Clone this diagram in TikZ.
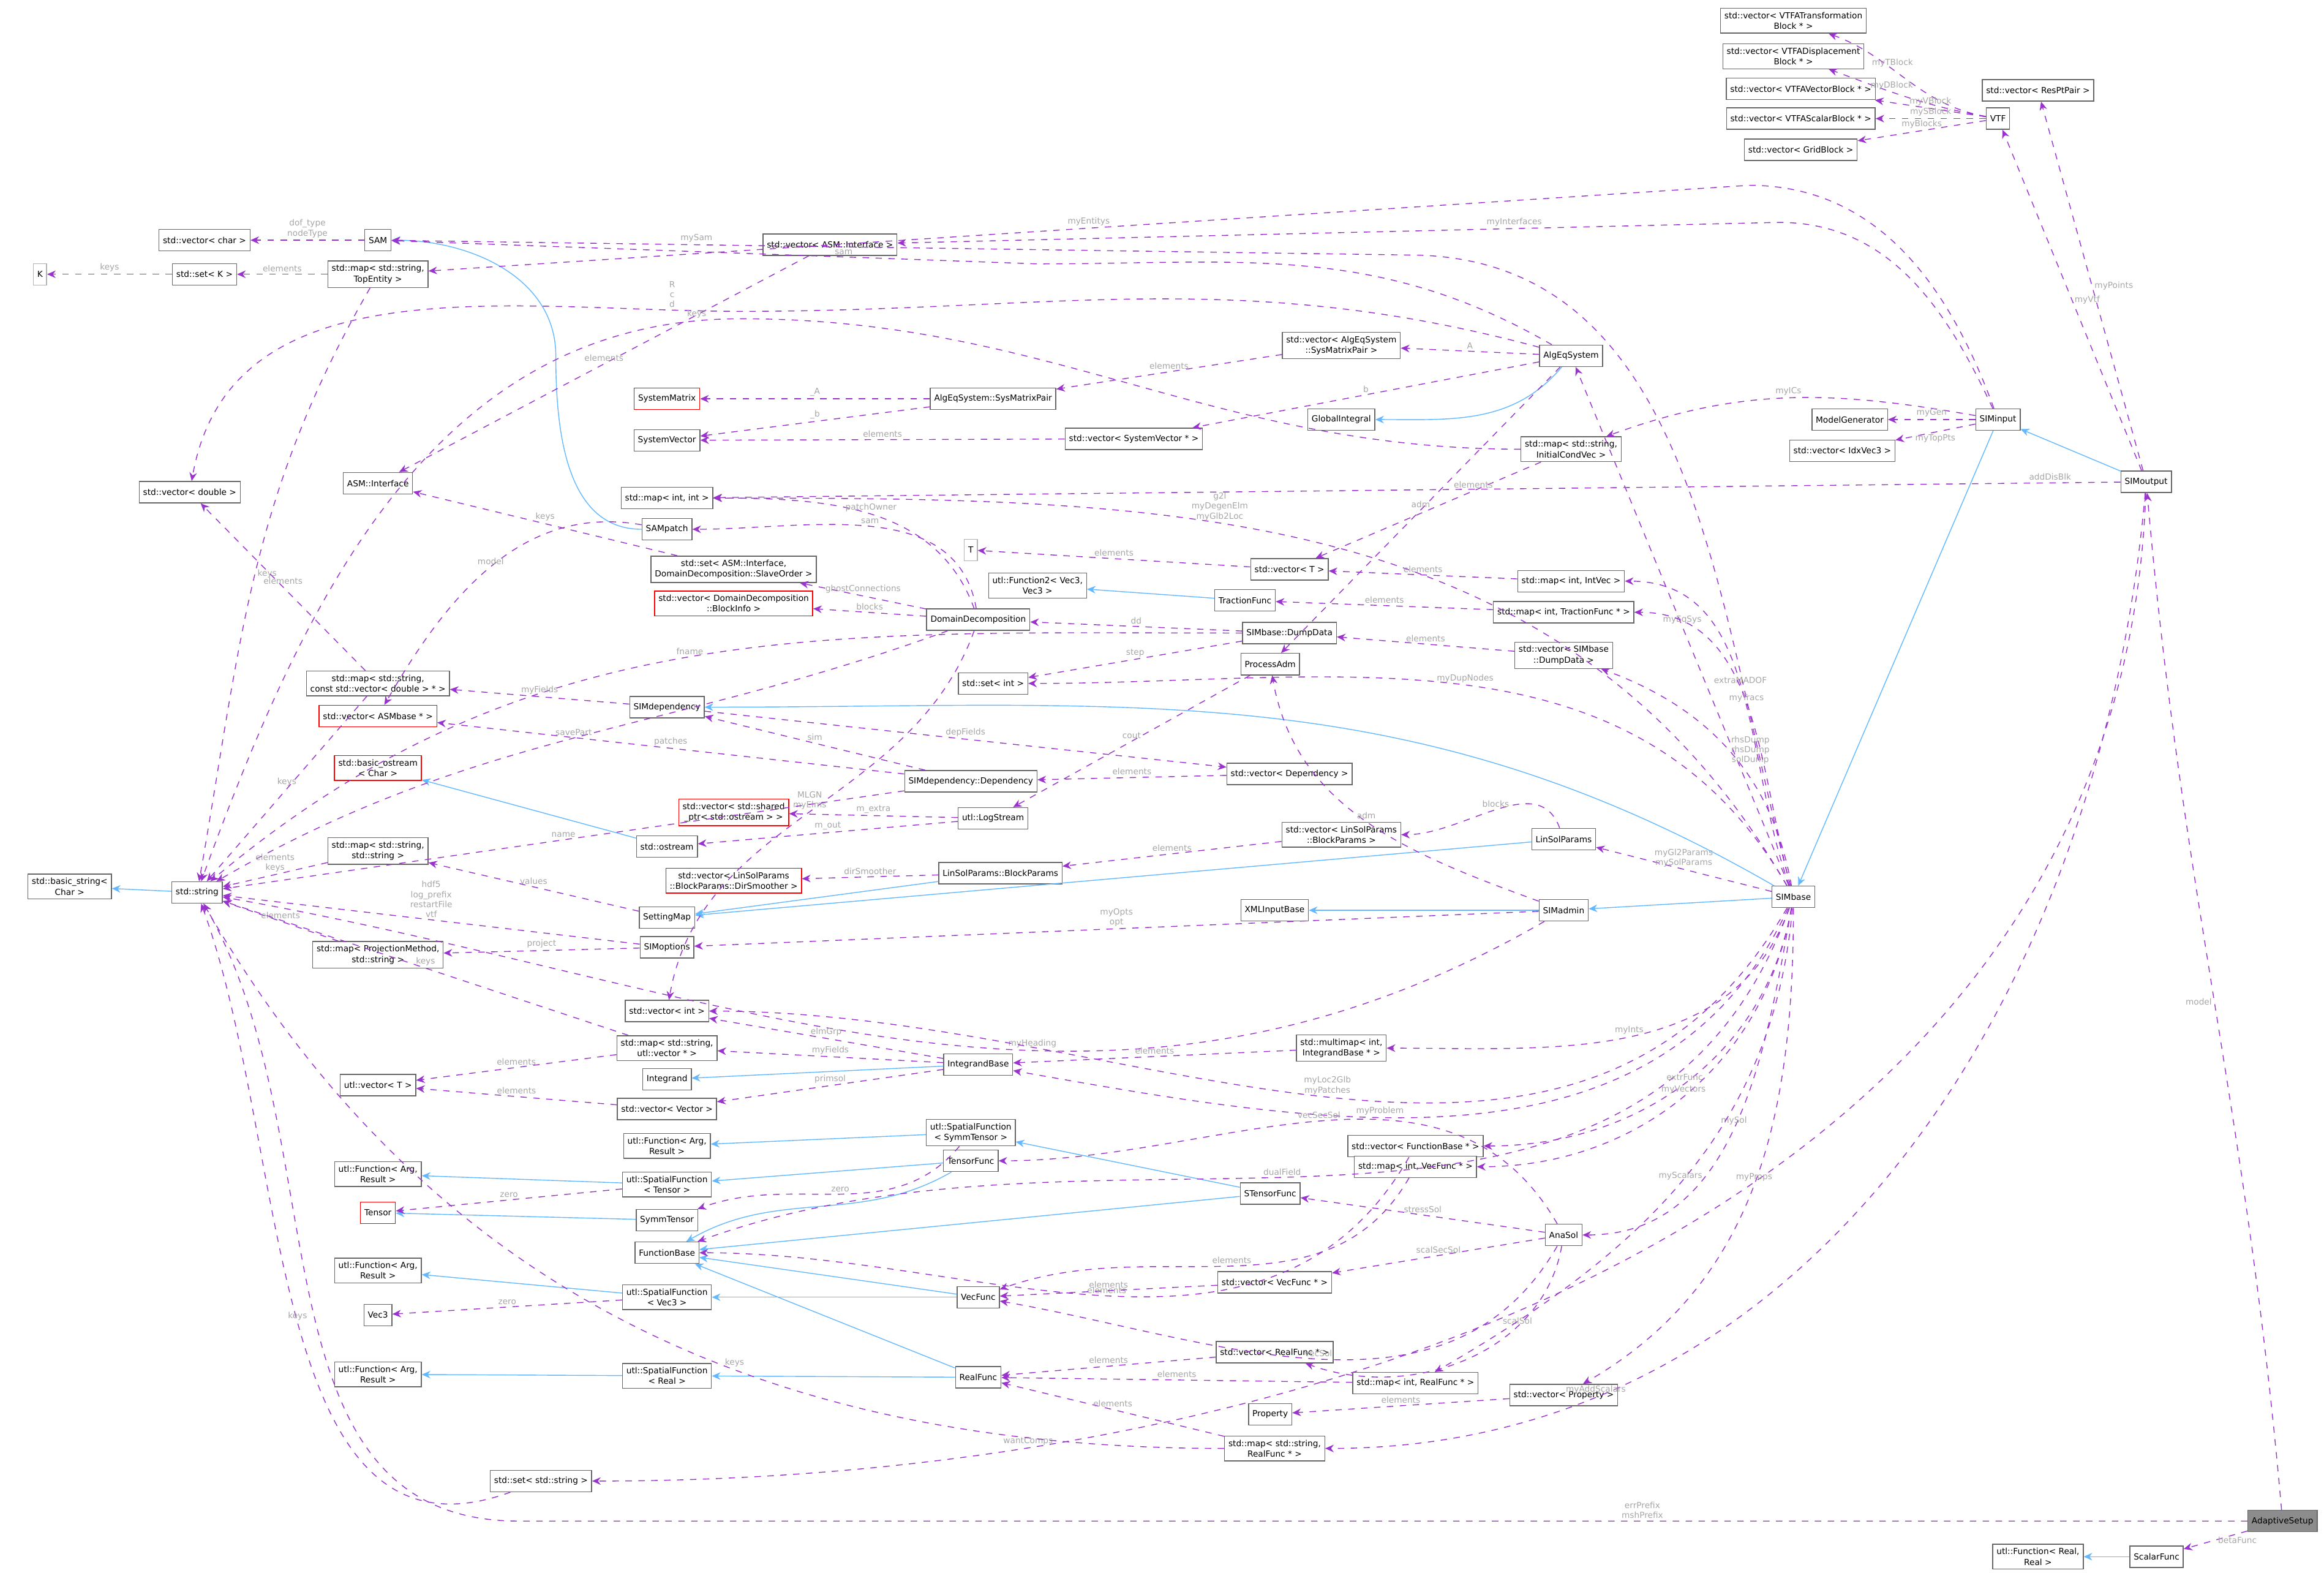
\documentclass[tikz,border=0pt]{standalone}
\usepackage{fontspec}
\setmainfont{DejaVu Sans}
\usetikzlibrary{arrows.meta}
\definecolor{depcol}{HTML}{9A32CD}
\definecolor{inhcol}{HTML}{63B8FF}
\tikzset{
  cls/.style={draw=black!60, fill=white, font=\fontsize{3.9}{4.9}\selectfont, align=center,
              inner sep=1.8pt, minimum height=3.5mm},
  bad/.style={cls, draw=red},
  uses/.style={draw=depcol, dashed, -{Stealth[length=4pt,width=3.5pt]}},
  inh/.style={draw=inhcol, -{Stealth[length=4pt,width=3.5pt]}},
  lab/.style={font=\fontsize{3.9}{4.6}\selectfont, text=black!35, align=center, above, inner sep=1pt}
}
\begin{document}
\begin{tikzpicture}[x=0.242mm, y=-0.242mm]
\useasboundingbox (0,0) rectangle (1568,1061);

% top right
\node[cls] (vTT) at (1210,14) {std::vector< VTFATransformation\\Block * >};
\node[cls] (vDB) at (1210,38) {std::vector< VTFADisplacement\\Block * >};
\node[cls] (vVB) at (1215,60) {std::vector< VTFAVectorBlock * >};
\node[cls] (vSB) at (1215,80) {std::vector< VTFAScalarBlock * >};
\node[cls] (vGB) at (1215,101) {std::vector< GridBlock >};
\node[cls] (vRes) at (1375,61) {std::vector< ResPtPair >};
\node[cls] (VTF) at (1348,80) {VTF};

% left top
\node[cls] (SAM) at (255,162) {SAM};
\node[cls] (vChar) at (138,162) {std::vector< char >};
\node[cls, draw=black!30] (K) at (27,185) {K};
\node[cls] (setK) at (138,185) {std::set< K >};
\node[cls] (mapTop) at (255,185) {std::map< std::string,\\TopEntity >};
\node[cls] (vASMI) at (560,165) {std::vector< ASM::Interface >};
\node[cls] (vAlgPair) at (905,233) {std::vector< AlgEqSystem\\::SysMatrixPair >};
\node[cls] (AlgEq) at (1060,240) {AlgEqSystem};
\node[bad] (SysMat) at (450,269) {SystemMatrix};
\node[cls] (SysPair) at (670,269) {AlgEqSystem::SysMatrixPair};
\node[cls] (GlobInt) at (905,283) {GlobalIntegral};
\node[cls] (SysVec) at (450,297) {SystemVector};
\node[cls] (vSysVec) at (765,296) {std::vector< SystemVector * >};
\node[cls] (mapICV) at (1060,303) {std::map< std::string,\\InitialCondVec >};
\node[cls] (ModGen) at (1248,283) {ModelGenerator};
\node[cls] (vIdx) at (1243,304) {std::vector< IdxVec3 >};
\node[cls] (SIMinput) at (1348,283) {SIMinput};
\node[cls] (SIMoutput) at (1448,325) {SIMoutput};

% middle
\node[cls] (vDouble) at (128,332) {std::vector< double >};
\node[cls] (ASMI) at (255,326) {ASM::Interface};
\node[cls] (mapII) at (450,336) {std::map< int, int >};
\node[cls] (SAMpatch) at (450,357) {SAMpatch};
\node[cls] (setASMI) at (495,384) {std::set< ASM::Interface,\\DomainDecomposition::SlaveOrder >};
\node[cls, draw=black!30] (Tnode) at (655,371) {T};
\node[cls] (utlF2) at (700,395) {utl::Function2< Vec3,\\Vec3 >};
\node[cls] (vT) at (870,384) {std::vector< T >};
\node[cls] (mapIntVec) at (1060,392) {std::map< int, IntVec >};
\node[cls] (TracF) at (840,405) {TractionFunc};
\node[cls] (mapTrac) at (1055,413) {std::map< int, TractionFunc * >};
\node[bad] (vDDBI) at (495,407) {std::vector< DomainDecomposition\\::BlockInfo >};
\node[cls] (DD) at (660,418) {DomainDecomposition};
\node[cls] (DumpData) at (870,427) {SIMbase::DumpData};
\node[cls] (ProcAdm) at (857,448) {ProcessAdm};
\node[cls] (vDump) at (1055,442) {std::vector< SIMbase\\::DumpData >};
\node[cls] (setInt) at (670,461) {std::set< int >};
\node[cls] (mapVecD) at (255,461) {std::map< std::string,\\const std::vector< double > * >};
\node[cls] (SIMdep) at (450,477) {SIMdependency};
\node[bad] (vASMbase) at (255,483) {std::vector< ASMbase * >};
\node[cls] (vDep) at (870,522) {std::vector< Dependency >};
\node[cls] (Dep) at (655,527) {SIMdependency::Dependency};
\node[bad] (bostream) at (255,518) {std::basic\_ostream\\< Char >};
\node[bad] (vShared) at (495,548) {std::vector< std::shared\\\_ptr< std::ostream > >};
\node[cls] (LogStream) at (670,552) {utl::LogStream};
\node[cls] (ostream) at (450,571) {std::ostream};
\node[cls] (vBP) at (905,563) {std::vector< LinSolParams\\::BlockParams >};
\node[cls] (bstring) at (47,598) {std::basic\_string<\\Char >};
\node[cls] (string) at (133,602) {std::string};
\node[cls] (mapSS) at (255,574) {std::map< std::string,\\std::string >};
\node[bad] (vDir) at (495,594) {std::vector< LinSolParams\\::BlockParams::DirSmoother >};
\node[cls] (BP) at (675,589) {LinSolParams::BlockParams};
\node[cls] (LinSol) at (1055,566) {LinSolParams};
\node[cls] (SIMbase) at (1210,605) {SIMbase};
\node[cls] (SetMap) at (450,619) {SettingMap};
\node[cls] (XMLIn) at (860,614) {XMLInputBase};
\node[cls] (SIMadmin) at (1055,614) {SIMadmin};
\node[cls] (SIMopts) at (450,639) {SIMoptions};
\node[cls] (mapProj) at (255,644) {std::map< ProjectionMethod,\\std::string >};

% lower part
\node[cls] (vInt) at (450,682) {std::vector< int >};
\node[cls] (mapUtlV) at (450,707) {std::map< std::string,\\utl::vector * >};
\node[cls] (multimap) at (905,707) {std::multimap< int,\\IntegrandBase * >};
\node[cls] (IntgB) at (660,718) {IntegrandBase};
\node[cls] (utlVT) at (255,732) {utl::vector< T >};
\node[cls] (Integrand) at (450,728) {Integrand};
\node[cls] (vVec) at (450,748) {std::vector< Vector >};
\node[cls] (SFsymm) at (655,764) {utl::SpatialFunction\\< SymmTensor >};
\node[cls] (FArg1) at (450,773) {utl::Function< Arg,\\Result >};
\node[cls] (vFB) at (955,773) {std::vector< FunctionBase * >};
\node[cls] (TensF) at (655,783) {TensorFunc};
\node[cls] (mapVecF) at (955,787) {std::map< int, VecFunc * >};
\node[cls] (FArg2) at (255,792) {utl::Function< Arg,\\Result >};
\node[cls] (SFtens) at (450,799) {utl::SpatialFunction\\< Tensor >};
\node[cls] (STensF) at (857,805) {STensorFunc};
\node[bad] (Tensor) at (255,818) {Tensor};
\node[cls] (SymmT) at (450,823) {SymmTensor};
\node[cls] (AnaSol) at (1055,833) {AnaSol};
\node[cls] (FuncB) at (450,845) {FunctionBase};
\node[cls] (FArg3) at (255,857) {utl::Function< Arg,\\Result >};
\node[cls] (SFvec) at (450,875) {utl::SpatialFunction\\< Vec3 >};
\node[cls] (VecF) at (660,875) {VecFunc};
\node[cls] (vVecF) at (860,865) {std::vector< VecFunc * >};
\node[cls] (Vec3) at (255,887) {Vec3};
\node[cls] (vRF) at (860,912) {std::vector< RealFunc * >};
\node[cls] (FArg4) at (255,927) {utl::Function< Arg,\\Result >};
\node[cls] (SFreal) at (450,928) {utl::SpatialFunction\\< Real >};
\node[cls] (RealF) at (660,929) {RealFunc};
\node[cls] (mapRF) at (955,933) {std::map< int, RealFunc * >};
\node[cls] (vProp) at (1055,941) {std::vector< Property >};
\node[cls] (Prop) at (857,954) {Property};
\node[cls] (mapSRF) at (860,977) {std::map< std::string,\\RealFunc * >};
\node[cls] (setStr) at (365,999) {std::set< std::string >};
\node[cls, fill=black!45] (Adaptive) at (1540,1026) {AdaptiveSetup};
\node[cls] (FRR) at (1375,1050) {utl::Function< Real,\\Real >};
\node[cls] (ScalarF) at (1455,1050) {ScalarFunc};

% inheritance
\draw[inh] (SIMoutput) -- (SIMinput);
\draw[inh] (SIMinput) -- (SIMbase);
\draw[inh] (SIMbase) to[out=150,in=0] (SIMdep);
\draw[inh] (SIMbase) -- (SIMadmin);
\draw[inh] (SIMadmin) -- (XMLIn);
\draw[inh] (LinSol) -- (SetMap);
\draw[inh] (BP) -- (SetMap);
\draw[inh] (SAMpatch.west) to[out=180,in=-90] (375,240) to[out=90,in=0] (SAM);
\draw[inh] (AlgEq) to[out=-130,in=0] (GlobInt);
\draw[inh] (TracF) -- (utlF2);
\draw[inh] (ostream) -- (bostream);
\draw[inh] (string) -- (bstring);
\draw[inh] (IntgB) -- (Integrand);
\draw[inh] (SFsymm) -- (FArg1);
\draw[inh] (SFtens) -- (FArg2);
\draw[inh] (SFvec) -- (FArg3);
\draw[inh] (SFreal) -- (FArg4);
\draw[inh] (TensF) -- (SFtens);
\draw[inh] (STensF) -- (SFsymm);
\draw[inh] (TensF) to[out=-150,in=30] (FuncB);
\draw[inh] (STensF) -- (FuncB);
\draw[inh] (VecF) -- (FuncB);
\draw[inh] (RealF) -- (FuncB);
\draw[inh] (VecF) -- (SFvec);
\draw[inh] (RealF) -- (SFreal);
\draw[inh] (SymmT) -- (Tensor);
\draw[inh] (ScalarF) -- (FRR);

% members
\draw[uses] (VTF) to[out=170,in=-20] node[lab, pos=0.6]{myTBlock} (vTT);
\draw[uses] (VTF) to[out=170,in=-20] node[lab, pos=0.6]{myDBlock} (vDB);
\draw[uses] (VTF) -- node[lab]{myVBlock} (vVB);
\draw[uses] (VTF) -- node[lab]{mySBlock} (vSB);
\draw[uses] (VTF) -- node[lab]{myBlocks} (vGB);
\draw[uses] (SIMoutput) -- node[lab, right]{myPoints} (vRes);
\draw[uses] (SIMoutput) -- node[lab, right]{myVtf} (VTF);
\draw[uses] (SIMoutput) -- node[lab, pos=0.05]{addDisBlk} (mapII);
\draw[uses] (SIMoutput) to[out=-95,in=0] node[lab, pos=0.8]{myAddScalars} (mapSRF);
\draw[uses] (SIMoutput) to[out=-92,in=0] node[lab, pos=0.8]{wantComps} (setStr);
\draw[uses] (SIMinput) to[out=110,in=0] (1180,125) -- node[lab]{myEntitys} (mapTop);
\draw[uses] (SIMinput) to[out=115,in=0] (1200,150) -- node[lab, pos=0.3]{myInterfaces} (vASMI);
\draw[uses] (SIMinput) to[out=170,in=20] node[lab]{myICs} (mapICV);
\draw[uses] (SIMinput) -- node[lab]{myGen} (ModGen);
\draw[uses] (SIMinput) -- node[lab, below]{myTopPts} (vIdx);
\draw[uses] (SAM) -- node[lab]{dof\_type\\nodeType} (vChar);
\draw[uses] (setK) -- node[lab]{keys} (K);
\draw[uses] (mapTop) -- node[lab]{elements} (setK);
\draw[uses] (mapTop) to[out=-120,in=80] node[lab, right]{keys} (string);
\draw[uses] (SIMbase) to[out=105,in=0] (950,172) -- node[lab, pos=0.7]{mySam} (SAM);
\draw[uses] (AlgEq) to[out=150,in=0] (700,178) -- node[lab, pos=0.3]{sam} (SAM);
\draw[uses] (AlgEq) to[out=165,in=0] (500,210) to[out=180,in=80] node[lab, pos=0.1]{R\\c\\d} (vDouble);
\draw[uses] (AlgEq) -- node[lab]{A} (vAlgPair);
\draw[uses] (AlgEq) -- node[lab]{b} (vSysVec);
\draw[uses] (vAlgPair) -- node[lab]{elements} (SysPair);
\draw[uses] (SysPair) -- node[lab]{\_A} (SysMat);
\draw[uses] (SysPair) -- node[lab]{\_b} (SysVec);
\draw[uses] (vSysVec) -- node[lab]{elements} (SysVec);
\draw[uses] (vASMI) -- node[lab]{elements} (ASMI);
\draw[uses] (mapICV) to[out=180,in=0] (500,215) to[out=180,in=70] node[lab, pos=0.05]{keys} (string);
\draw[uses] (mapICV) -- node[lab, pos=0.3]{elements} (vT);
\draw[uses] (SIMbase) -- node[lab]{myEqSys} (AlgEq);
\draw[uses] (AlgEq) -- node[lab]{adm} (ProcAdm);
\draw[uses] (SIMbase) to[out=120,in=0] node[lab, pos=0.6]{g2l\\myDegenElm\\myGlb2Loc} (mapII);
\draw[uses] (DD) to[out=110,in=0] node[lab]{patchOwner} (mapII);
\draw[uses] (DD) to[out=100,in=0] node[lab]{sam} (SAMpatch);
\draw[uses] (SAMpatch) to[out=170,in=60] node[lab]{model} (vASMbase);
\draw[uses] (DD) -- node[lab]{ghostConnections} (setASMI);
\draw[uses] (setASMI) -- node[lab]{keys} (ASMI);
\draw[uses] (DD) -- node[lab]{blocks} (vDDBI);
\draw[uses] (DD) to[out=-110,in=80] node[lab]{MLGN\\myElms} (vInt);
\draw[uses] (DumpData) to[out=180,in=40] node[lab]{fname} (string);
\draw[uses] (DumpData) -- node[lab]{step} (setInt);
\draw[uses] (DumpData) -- node[lab]{dd} (DD);
\draw[uses] (vDump) -- node[lab]{elements} (DumpData);
\draw[uses] (SIMbase) to[out=100,in=-20] node[lab, right]{rhsDump\\rhsDump\\solDump} (vDump);
\draw[uses] (ProcAdm) -- node[lab]{cout} (LogStream);
\draw[uses] (SIMbase) to[out=120,in=0] node[lab]{myDupNodes} (setInt);
\draw[uses] (SIMbase) to[out=110,in=0] node[lab]{extraMADOF} (mapIntVec);
\draw[uses] (mapIntVec) -- node[lab]{elements} (vT);
\draw[uses] (vT) -- node[lab]{elements} (Tnode);
\draw[uses] (SIMbase) to[out=105,in=0] node[lab]{myTracs} (mapTrac);
\draw[uses] (mapTrac) -- node[lab]{elements} (TracF);
\draw[uses] (SIMadmin) to[out=160,in=-80] node[lab]{adm} (ProcAdm);
\draw[uses] (mapVecD) -- node[lab]{elements} (vDouble);
\draw[uses] (mapVecD) -- node[lab]{keys} (string);
\draw[uses] (SIMdep) -- node[lab]{myFields} (mapVecD);
\draw[uses] (SIMdep) -- node[lab]{depFields} (vDep);
\draw[uses] (vDep) -- node[lab]{elements} (Dep);
\draw[uses] (Dep) -- node[lab]{sim} (SIMdep);
\draw[uses] (Dep) -- node[lab]{patches} (vASMbase);
\draw[uses] (Dep) -- node[lab]{name} (string);
\draw[uses] (DD) to[out=-160,in=30] node[lab]{savePart} (string);
\draw[uses] (LogStream) -- node[lab]{m\_extra} (vShared);
\draw[uses] (LogStream) -- node[lab]{m\_out} (ostream);
\draw[uses] (vBP) -- node[lab]{elements} (BP);
\draw[uses] (BP) -- node[lab]{dirSmoother} (vDir);
\draw[uses] (LinSol) to[out=110,in=0] node[lab]{blocks} (vBP);
\draw[uses] (SIMbase) -- node[lab]{myGl2Params\\mySolParams} (LinSol);
\draw[uses] (mapSS) -- node[lab]{elements\\keys} (string);
\draw[uses] (SetMap) -- node[lab]{values} (mapSS);
\draw[uses] (SIMopts) -- node[lab]{hdf5\\log\_prefix\\restartFile\\vtf} (string);
\draw[uses] (SIMopts) -- node[lab]{project} (mapProj);
\draw[uses] (mapProj) -- node[lab]{elements} (string);
\draw[uses] (SIMadmin) -- node[lab]{myOpts\\opt} (SIMopts);
\draw[uses] (SIMadmin) to[out=-150,in=-10] node[lab, pos=0.4]{myHeading} (string);
\draw[uses] (SIMbase) to[out=-120,in=0] node[lab]{myLoc2Glb\\myPatches} (vInt);
\draw[uses] (mapUtlV) -- node[lab]{keys} (string);
\draw[uses] (mapUtlV) -- node[lab]{elements} (utlVT);
\draw[uses] (vVec) -- node[lab]{elements} (utlVT);
\draw[uses] (IntgB) -- node[lab]{elmGrp} (vInt);
\draw[uses] (IntgB) -- node[lab]{myFields} (mapUtlV);
\draw[uses] (IntgB) -- node[lab]{primsol} (vVec);
\draw[uses] (multimap) -- node[lab]{elements} (IntgB);
\draw[uses] (SIMbase) to[out=-110,in=0] node[lab]{myInts} (multimap);
\draw[uses] (SIMbase) to[out=-115,in=-10] node[lab, pos=0.6]{myProblem} (IntgB);
\draw[uses] (SIMbase) to[out=-110,in=20] node[lab, pos=0.55]{dualField} (FuncB);
\draw[uses] (SIMbase) to[out=-100,in=0] node[lab]{extrFunc} (vFB);
\draw[uses] (vFB) to[out=-120,in=0] node[lab]{elements} (FuncB);
\draw[uses] (SIMbase) to[out=-100,in=0] node[lab]{myVectors} (mapVecF);
\draw[uses] (mapVecF) to[out=-120,in=20] node[lab]{elements} (VecF);
\draw[uses] (AnaSol) to[out=120,in=0] node[lab]{vecSecSol} (TensF);
\draw[uses] (AnaSol) -- node[lab]{stressSol} (STensF);
\draw[uses] (AnaSol) -- node[lab]{scalSecSol} (vVecF);
\draw[uses] (vVecF) -- node[lab]{elements} (VecF);
\draw[uses] (AnaSol) to[out=-120,in=-10] node[lab]{vecSol} (VecF);
\draw[uses] (AnaSol) to[out=-100,in=-20] node[lab, pos=0.3]{scalSol} (vRF);
\draw[uses] (SFsymm) to[out=-130,in=20] node[lab]{zero} (SymmT);
\draw[uses] (SFtens) -- node[lab]{zero} (Tensor);
\draw[uses] (SFvec) -- node[lab]{zero} (Vec3);
\draw[uses] (SIMbase) to[out=-100,in=0] node[lab]{mySol} (AnaSol);
\draw[uses] (SIMbase) to[out=-95,in=30] node[lab]{myScalars} (mapRF);
\draw[uses] (mapRF) -- node[lab]{elements} (RealF);
\draw[uses] (vRF) -- node[lab]{elements} (RealF);
\draw[uses] (SIMbase) to[out=-90,in=30] node[lab]{myProps} (vProp);
\draw[uses] (vProp) -- node[lab]{elements} (Prop);
\draw[uses] (mapSRF) -- node[lab]{elements} (RealF);
\draw[uses] (mapSRF) to[out=180,in=-60] node[lab, pos=0.4]{keys} (string);
\draw[uses] (setStr) to[out=-160,in=-70] node[lab]{keys} (string);
\draw[uses] (Adaptive) -- (350,1026) node[lab, pos=0.35]{errPrefix\\mshPrefix} to[out=180,in=-60] (string);
\draw[uses] (Adaptive) to[out=95,in=-85] node[lab, left]{model} (SIMoutput);
\draw[uses] (Adaptive) -- node[lab, right]{betaFunc} (ScalarF);
\end{tikzpicture}
\end{document}
